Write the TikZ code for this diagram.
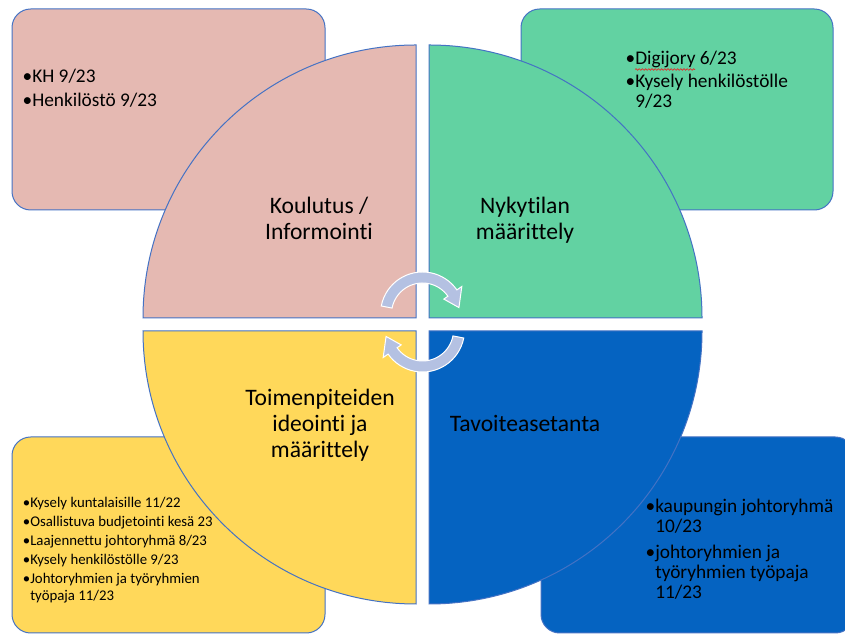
\documentclass[tikz,border=0pt]{standalone}
\usepackage{fontspec}
\setmainfont{Carlito}[Ligatures={NoCommon}]
\usetikzlibrary{decorations.pathmorphing}
\definecolor{edgeblue}{RGB}{68,114,196}
\definecolor{pinkfill}{RGB}{229,185,178}
\definecolor{greenfill}{RGB}{98,210,162}
\definecolor{yellowfill}{RGB}{255,216,90}
\definecolor{bluefill}{RGB}{5,99,193}
\definecolor{arrowfill}{RGB}{180,193,226}
\definecolor{spellred}{RGB}{230,40,40}
\tikzset{
  note box/.style={draw=edgeblue,line width=0.75pt,rounded corners=14pt},
  quarter/.style={draw=edgeblue,line width=0.75pt},
  phase label/.style={font=\fontsize{17.7}{19.5}\selectfont,align=center,inner sep=0pt},
  note text/.style={anchor=base west,inner sep=0pt,font=\fontsize{14.5}{15}\selectfont},
  small note/.style={anchor=base west,inner sep=0pt,font=\fontsize{11.1}{12.75}\selectfont},
  cyc arrow/.pic={
    \filldraw[fill=arrowfill,draw=white,line width=0.75pt]
      (169:42) arc[start angle=169,end angle=35,radius=42]
      -- (35:48) -- (10:37) -- (35:26) -- (35:31)
      arc[start angle=35,end angle=169,radius=31] -- cycle;
  }
}

\begin{document}
\begin{tikzpicture}[x=0.75pt,y=0.75pt]
    \useasboundingbox[fill=white] (0,0) rectangle (845,634);

    % corner boxes
    \draw[note box,fill=pinkfill] (12,424) rectangle (325,625);
    \draw[note box,fill=greenfill] (521,424) rectangle (833,625);
    \draw[note box,fill=yellowfill] (12,1) rectangle (325,197);
    \draw[note box,fill=bluefill] (541,1) rectangle (854,197);

    % quarters
    \draw[quarter,fill=pinkfill] (416,316) -- (143,316) arc[start angle=180,end angle=90,radius=273] -- cycle;
    \draw[quarter,fill=greenfill] (429,316) -- (429,589) arc[start angle=90,end angle=0,radius=273] -- cycle;
    \draw[quarter,fill=yellowfill] (416,303) -- (416,30) arc[start angle=270,end angle=180,radius=273] -- cycle;
    \draw[quarter,fill=bluefill] (429,303) -- (702,303) arc[start angle=0,end angle=-90,radius=273] -- cycle;

    % cycle arrows
    \pic at (422.5,320) {cyc arrow};
    \pic[rotate=180] at (422.5,304) {cyc arrow};

    \node[phase label] (koulutus) at (319,416) {Koulutus /\\Informointi};
    \node[phase label] (nykytila) at (525,414) {Nykytilan\\määrittely};
    \node[phase label] (toimet) at (320,208.4) {Toimenpiteiden\\ideointi ja\\määrittely};
    \node[phase label,anchor=base] (tavoite) at (525,202) {Tavoiteasetanta};

    \node[note text] (koulutus notes) at (32,551) {\begin{tabular}[t]{@{}l@{}}
      \llap{\textbullet}KH 9/23\\[3pt]
      \llap{\textbullet}Henkilöstö 9/23
    \end{tabular}};
    \node[note text] (nykytila notes) at (635,569) {\begin{tabular}[t]{@{}l@{}}
      \llap{\textbullet}Digijory 6/23\\[2.25pt]
      \llap{\textbullet}Kysely henkilöstölle\\
      9/23
    \end{tabular}};
    \node[small note] (toimet notes) at (30,126) {\begin{tabular}[t]{@{}l@{}}
      \llap{\textbullet}Kysely kuntalaisille 11/22\\[1.5pt]
      \llap{\textbullet}Osallistuva budjetointi kesä 23\\[1.5pt]
      \llap{\textbullet}Laajennettu johtoryhmä 8/23\\[1.5pt]
      \llap{\textbullet}Kysely henkilöstölle 9/23\\[1.5pt]
      \llap{\textbullet}Johtoryhmien ja työryhmien\\
      työpaja 11/23
    \end{tabular}};
    \node[note text] (tavoite notes) at (655,121) {\begin{tabular}[t]{@{}l@{}}
      \llap{\textbullet}kaupungin johtoryhmä\\
      10/23\\[4.5pt]
      \llap{\textbullet}johtoryhmien ja\\
      työryhmien työpaja\\
      11/23
    \end{tabular}};

    % spelling underline
    \coordinate (wavy start) at (635,564.5);
    \coordinate (wavy end) at (695,564.5);
    \draw[spellred,line width=0.5pt,decorate,decoration={snake,amplitude=0.6pt,segment length=2.4pt}] (wavy start) -- (wavy end);
\end{tikzpicture}
\end{document}
